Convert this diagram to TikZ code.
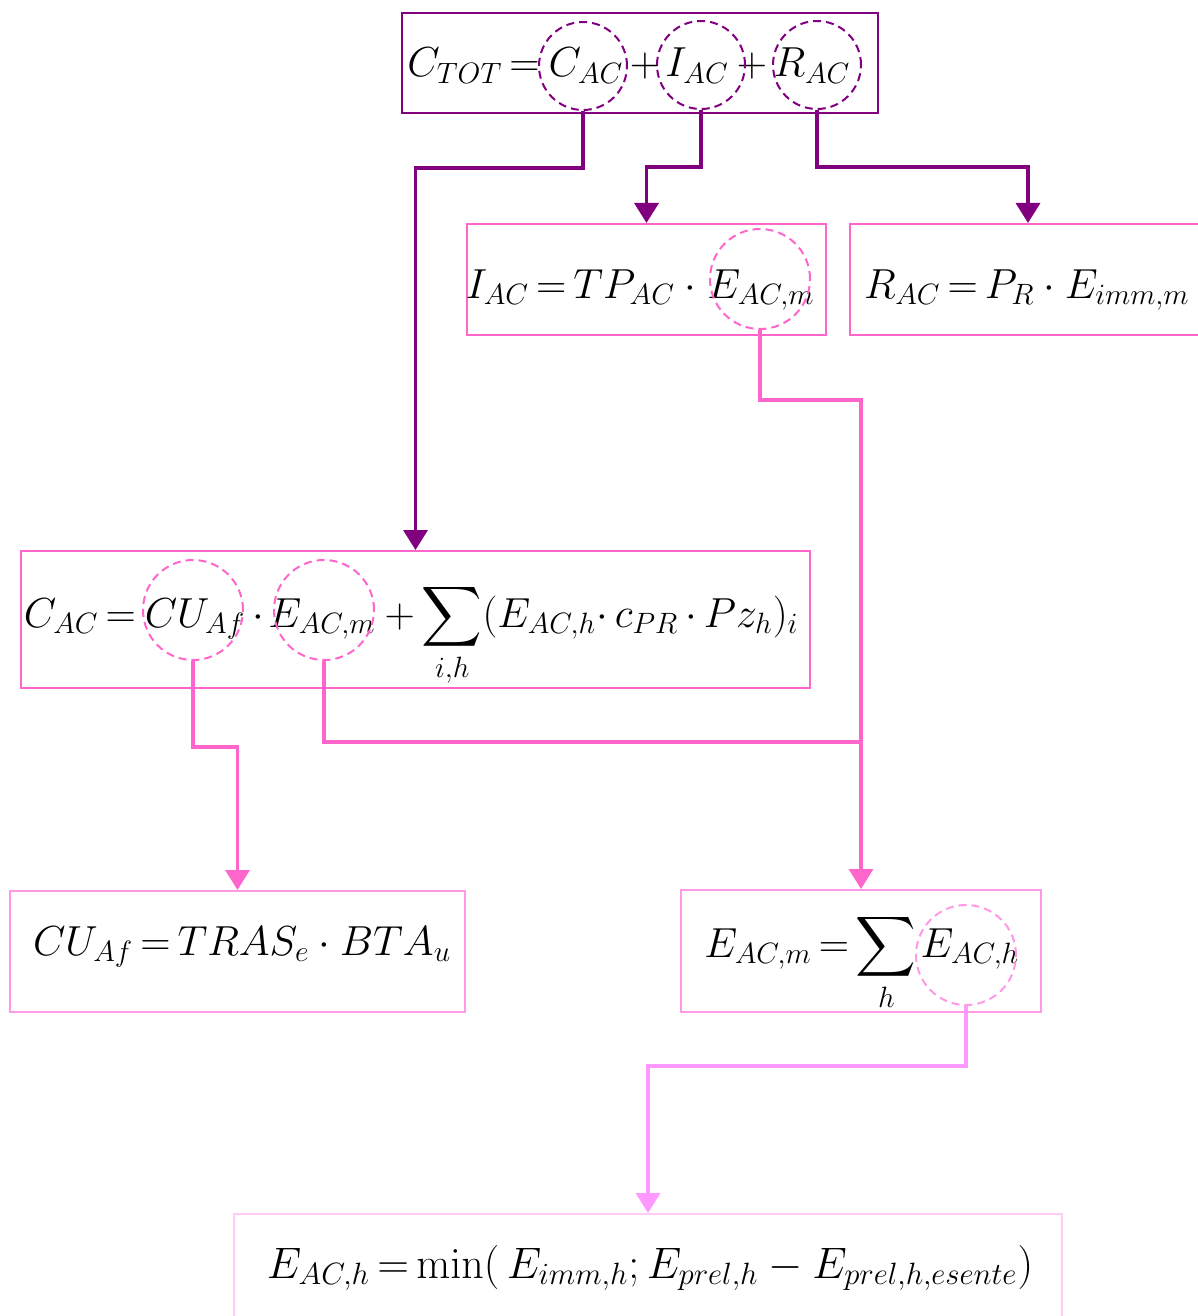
\RequirePackage{fix-cm}
\documentclass[tikz,border=0pt]{standalone}
\usepackage{amsmath}
\usepackage{amssymb}
\usepackage{tikz}
\usetikzlibrary{arrows.meta}
\usetikzlibrary{shapes, positioning}

\definecolor{cPurple}{HTML}{800080}
\definecolor{cPink}{HTML}{FF66CC}
\definecolor{cPinkLt}{HTML}{FF99E6}
\definecolor{cPinkArr}{HTML}{FF99FF}
\definecolor{cPinkPale}{HTML}{FFCCF7}

\tikzset{
  box/.style={draw,rectangle,line width=1bp,inner sep=0pt},
  ring/.style={draw,circle,dash pattern=on 4bp off 2.5bp,line width=1bp,inner sep=0pt,minimum size=50bp},
  term/.style={anchor=base,inner sep=0pt,outer sep=0pt},
  link/.style={line width=1.75bp},
}

\begin{document}
\thickmuskip=3mu plus 2mu
\begin{tikzpicture}[x=0.5bp,y=-0.5bp,>={Triangle[width=12bp,length=10bp]},line join=miter,
  font=\fontsize{21bp}{25bp}\selectfont]
\useasboundingbox (0,0) rectangle (1198,1316);
%%
\node (node_top) at (640,63) [box,draw=cPurple,minimum width=238bp,minimum height=50bp] {};
  \node (node_iac) at (646.5,279.5) [box,draw=cPink,minimum width=179.5bp,minimum height=55.5bp] {};
  \node (node_rac) at (1028,279.5) [box,draw=cPink,minimum width=178bp,minimum height=55.5bp] {};
  \node (node_cac) at (415.5,619.5) [box,draw=cPink,minimum width=394.5bp,minimum height=68.5bp] {};
  \node (node_cuaf) at (237.5,951.5) [box,draw=cPinkLt,minimum width=227.5bp,minimum height=60.5bp] {};
  \node (node_eacm) at (861,951) [box,draw=cPinkLt,minimum width=180bp,minimum height=61bp] {};
  \node (node_each) at (648,1268) [box,draw=cPinkPale,minimum width=414bp,minimum height=54bp] {};
%
\node (t_cac) at (586,77) [term] {$C_{AC}$};
  \node (t_ctot) [term,base left=1bp of t_cac] {$C_{TOT} ={}$};
  \node (t_plus1) at (645,77) [term] {$+$};
  \node (t_iac) at (697,77) [term] {$I_{AC}$};
  \node (t_plus2) at (752,77) [term] {$+$};
  \node (t_rac) at (812,77) [term] {$R_{AC}$};
%
\node (t_iac_em) at (761,298) [term] {$E_{AC,m}$};
  \node (t_iac_l) [term,base left=1bp of t_iac_em] {$I_{AC} = TP_{AC}\cdot{}$};
  \node (t_rac_f) at (864,298) [term,anchor=base west] {$R_{AC} = P_{R}\cdot E_{imm,m}$};
%
\node (t_cu) at (195,627) [term] {$CU_{Af}$};
  \node (t_cac_l) [term,base left=1bp of t_cu] {$C_{AC} ={}$};
  \node (t_dot) at (258,627) [term] {$\cdot$};
  \node (t_cac_em) at (322,627) [term] {$E_{AC,m}$};
  \node (t_cac_r) [term,base right=1bp of t_cac_em] {\medmuskip=3mu$%
    {}+\displaystyle\sum_{i,h}(E_{AC,h}{\cdot}\;c_{PR}\cdot Pz_{h})_{i}$};
%
\node (t_cuaf_f) at (33,955) [term,anchor=base west] {$CU_{Af} = TRAS_{e}\cdot BTA_{u}$};
  \node (t_eh) at (970,957) [term] {$E_{AC,h}$};
  \node (t_eacm_l) [term,base left=2bp of t_eh] {$E_{AC,m} = \displaystyle\sum_{h}$};
  \node (t_each_f) at (650,1278) [term,font=\fontsize{22bp}{26bp}\selectfont] {$E_{AC,h} = \min(\,E_{imm,h}; E_{prel,h} - E_{prel,h,esente})$};
%
\node (c_top_c) at (583,66) [ring,draw=cPurple,minimum size=44bp] {};
  \node (c_top_i) at (701,65) [ring,draw=cPurple,minimum size=44bp] {};
  \node (c_top_r) at (817,65) [ring,draw=cPurple,minimum size=44bp] {};
  \node (c_iac_e) at (760,279) [ring,draw=cPink] {};
  \node (c_cac_cu) at (193,610) [ring,draw=cPink] {};
  \node (c_cac_e) at (324,610) [ring,draw=cPink] {};
  \node (c_eacm_e) at (966,955) [ring,draw=cPinkLt] {};
  \coordinate (join_em) at (861,742);
%
\draw [link,cPurple,->] (c_top_c.south) -- ++(0,57) -| (node_cac.north);
  \draw [link,cPurple,->] (c_top_i.south) -- ++(0,57) -| (node_iac.north);
  \draw [link,cPurple,->] (c_top_r.south) -- ++(0,57) -| (node_rac.north);
  \draw [link,cPink,->] (c_iac_e.south) -- ++(0,70) -| (node_eacm.north);
  \draw [link,cPink] (c_cac_e.south) |- (join_em);
  \draw [link,cPink,->] (c_cac_cu.south) -- ++(0,86) -| (node_cuaf.north);
  \draw [link,cPinkArr,->] (c_eacm_e.south) -- ++(0,60) -| (node_each.north);
%
\end{tikzpicture}
\end{document}
